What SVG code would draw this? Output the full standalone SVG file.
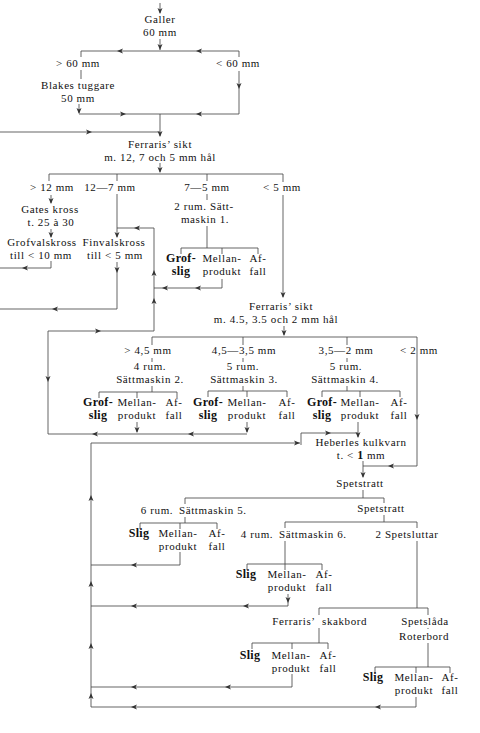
<svg xmlns="http://www.w3.org/2000/svg" width="480" height="733" viewBox="0 0 480 733">
<defs>
<style>
text{font-family:"Liberation Serif","DejaVu Serif",serif;font-size:11px;letter-spacing:0.6px;fill:#111;text-anchor:middle}
.b{font-weight:bold;font-size:12px;letter-spacing:0.3px}
.s{text-anchor:start}
.ln{stroke:#4a4a4a;stroke-width:0.85;fill:none}
</style>
<path id="aL" fill="#333" d="M0,0 L6,-2.5 L4.5,0 L6,2.5 z"/>
<path id="aR" fill="#333" d="M0,0 L-6,-2.5 L-4.5,0 L-6,2.5 z"/>
<path id="aD" fill="#333" d="M0,0 L-2.5,-6 L0,-4.5 L2.5,-6 z"/>
<path id="aU" fill="#333" d="M0,0 L-2.5,6 L0,4.5 L2.5,6 z"/>
</defs>
<rect width="480" height="733" fill="#fff"/>
<g id="connectors">
<path class="ln" d="M160,3 V13 M160,39 V50 M81,51 H239 M81,51 V57 M81,70 V79 M79,104 V113 M239,51 V57 M239,71 V114 M79,114 H239 M160,114 V136 M0,132 H160 M160,163 V172 M49,174 H283 M49,174 V181 M117,174 V181 M207,174 V181 M283,174 V182 M283,195 V297"/>
<path class="ln" d="M51,195 V203 M51,229 V237 M51,261 V268 H0 M117,194 V237 M154,228 H117 M117,262 V309 H0 M207,194 V200 M207,226 V248 M181,248 H258 M181,248 V254 M222,248 V254 M258,248 V254 M222,279 V288 H154 M154,228 V331 H48 V434 H247 M137,422 V432 M247,422 V432"/>
<path class="ln" d="M284,326 V335 M152,337 H417 M152,337 V345 M243,337 V345 M347,337 V345 M417,337 V466 H363 M152,358 V362 M152,386 V392 M99,392 H177 M99,392 V398 M137,392 V398 M177,392 V398 M243,358 V362 M243,386 V391 M208,391 H287 M208,391 V397 M247,391 V397 M287,391 V397 M347,358 V362 M347,386 V391 M322,391 H400 M322,391 V397 M360,391 V397 M400,391 V397 M358,422 V437 M301,445 V433 H358 M91,707 V443 H300"/>
<path class="ln" d="M363,461 V477 M363,490 V498 M185,498 H384 M185,498 V504 M384,498 V503 M384,515 V522 M285,522 H417 M285,522 V528 M417,522 V528 M185,517 V523 M140,523 H217 M140,523 V529 M180,523 V529 M217,523 V529 M180,552 V565 H91 M285,541 V564 M247,564 H322 M247,564 V570 M285,564 V570 M322,564 V570 M288,594 V606 H91 M417,541 V608 M319,608 H428 M319,608 V615 M319,628 V643 M252,643 H328 M252,643 V649 M292,643 V649 M328,643 V649 M292,674 V687 H91 M428,608 V615 M428,628 V629 M428,643 V667 M375,667 H450 M375,667 V673 M416,667 V673 M450,667 V673 M416,697 V707 H91"/>
<use href="#aD" x="160" y="14"/>
<use href="#aD" x="160" y="50"/>
<use href="#aL" x="117" y="51"/>
<use href="#aL" x="196" y="51"/>
<use href="#aD" x="79" y="114"/>
<use href="#aD" x="239" y="89"/>
<use href="#aR" x="126" y="114"/>
<use href="#aL" x="196" y="114"/>
<use href="#aD" x="160" y="137"/>
<use href="#aR" x="92" y="132"/>
<use href="#aD" x="160" y="173"/>
<use href="#aD" x="283" y="298"/>
<use href="#aD" x="51" y="204"/>
<use href="#aD" x="51" y="238"/>
<use href="#aL" x="22" y="268"/>
<use href="#aD" x="117" y="238"/>
<use href="#aL" x="134" y="228"/>
<use href="#aD" x="117" y="273"/>
<use href="#aL" x="52" y="309"/>
<use href="#aL" x="195" y="288"/>
<use href="#aL" x="162" y="288"/>
<use href="#aU" x="154" y="270"/>
<use href="#aU" x="154" y="298"/>
<use href="#aR" x="101" y="331"/>
<use href="#aD" x="48" y="382"/>
<use href="#aL" x="92" y="434"/>
<use href="#aL" x="188" y="434"/>
<use href="#aD" x="137" y="433"/>
<use href="#aD" x="247" y="433"/>
<use href="#aD" x="284" y="336"/>
<use href="#aD" x="417" y="420"/>
<use href="#aL" x="388" y="466"/>
<use href="#aD" x="358" y="438"/>
<use href="#aR" x="331" y="433"/>
<use href="#aR" x="300" y="443"/>
<use href="#aU" x="91" y="495"/>
<use href="#aU" x="91" y="581"/>
<use href="#aU" x="91" y="643"/>
<use href="#aU" x="91" y="693"/>
<use href="#aD" x="363" y="478"/>
<use href="#aL" x="131" y="565"/>
<use href="#aD" x="288" y="603"/>
<use href="#aL" x="243" y="606"/>
<use href="#aL" x="131" y="606"/>
<use href="#aL" x="225" y="687"/>
<use href="#aL" x="131" y="687"/>
<use href="#aL" x="375" y="707"/>
<use href="#aL" x="131" y="707"/>
</g>
<g id="galler"><text x="160" y="23">Galler</text><text x="160" y="35.5">60 mm</text></g>
<g id="gt60"><text x="78" y="67">&gt; 60 mm</text></g>
<g id="lt60"><text x="238" y="67">&lt; 60 mm</text></g>
<g id="blakes"><text x="78" y="89">Blakes tuggare</text><text x="78" y="101.5">50 mm</text></g>
<g id="ferraris1"><text x="160" y="148">Ferraris’ sikt</text><text x="160" y="160.5">m. 12, 7 och 5 mm hål</text></g>
<g id="s12"><text x="52" y="191">&gt; 12 mm</text></g>
<g id="s127"><text x="110" y="191">12—7 mm</text></g>
<g id="s75"><text x="207" y="191">7—5 mm</text></g>
<g id="s5"><text x="282" y="191">&lt; 5 mm</text></g>
<g id="gates"><text x="50" y="213">Gates kross</text><text x="51" y="225.5">t. 25 à 30</text></g>
<g id="grofvals"><text x="42" y="246">Grofvalskross</text><text x="41" y="258.5">till &lt; 10 mm</text></g>
<g id="finvals"><text x="114" y="246">Finvalskross</text><text x="115" y="258.5">till &lt; 5 mm</text></g>
<g id="sm1"><text x="204" y="210">2 rum. Sätt-</text><text x="205" y="222.5">maskin 1.</text></g>
<g id="sm1out"><text class="b" x="181" y="262">Grof-</text><text class="b" x="181" y="274.5">slig</text><text x="222" y="262">Mellan-</text><text x="222" y="274.5">produkt</text><text x="258" y="262">Af-</text><text x="258" y="274.5">fall</text></g>
<g id="ferraris2"><text x="281" y="310">Ferraris’ sikt</text><text x="276" y="322.5">m. 4.5, 3.5 och 2 mm hål</text></g>
<g id="s45"><text x="148" y="354">&gt; 4,5 mm</text></g>
<g id="s4535"><text x="244" y="354">4,5—3,5 mm</text></g>
<g id="s352"><text x="346" y="354">3,5—2 mm</text></g>
<g id="s2"><text x="419" y="354">&lt; 2 mm</text></g>
<g id="sm2"><text x="150" y="370">4 rum.</text><text x="150" y="382.5">Sättmaskin 2.</text></g>
<g id="sm3"><text x="243" y="370">5 rum.</text><text x="244" y="382.5">Sättmaskin 3.</text></g>
<g id="sm4"><text x="346" y="370">5 rum.</text><text x="345" y="382.5">Sättmaskin 4.</text></g>
<g id="sm2out"><text class="b" x="98" y="406">Grof-</text><text class="b" x="98" y="418.5">slig</text><text x="137" y="406">Mellan-</text><text x="137" y="418.5">produkt</text><text x="174" y="406">Af-</text><text x="174" y="418.5">fall</text></g>
<g id="sm3out"><text class="b" x="208" y="406">Grof-</text><text class="b" x="208" y="418.5">slig</text><text x="247" y="406">Mellan-</text><text x="247" y="418.5">produkt</text><text x="287" y="406">Af-</text><text x="287" y="418.5">fall</text></g>
<g id="sm4out"><text class="b" x="322" y="406">Grof-</text><text class="b" x="322" y="418.5">slig</text><text x="360" y="406">Mellan-</text><text x="360" y="418.5">produkt</text><text x="399" y="406">Af-</text><text x="399" y="418.5">fall</text></g>
<g id="heberles"><text x="361" y="446">Heberles kulkvarn</text><text x="361" y="458.5">t. &lt; <tspan class="b">1</tspan> mm</text></g>
<g id="spetstratt1"><text x="360" y="487">Spetstratt</text></g>
<g id="spetstratt2"><text x="381" y="512">Spetstratt</text></g>
<g id="sm5"><text x="157" y="514">6 rum.</text><text class="s" x="179" y="514">Sättmaskin 5.</text></g>
<g id="sm5out"><text class="b" x="139" y="537">Slig</text><text x="178" y="537">Mellan-</text><text x="178" y="549.5">produkt</text><text x="217" y="537">Af-</text><text x="217" y="549.5">fall</text></g>
<g id="sm6"><text x="257" y="538">4 rum.</text><text class="s" x="279" y="538">Sättmaskin 6.</text></g>
<g id="spetsluttar"><text x="407" y="538">2 Spetsluttar</text></g>
<g id="sm6out"><text class="b" x="246" y="578">Slig</text><text x="287" y="578">Mellan-</text><text x="287" y="590.5">produkt</text><text x="324" y="578">Af-</text><text x="324" y="590.5">fall</text></g>
<g id="skakbord"><text x="294" y="625">Ferraris’</text><text class="s" x="322" y="625">skakbord</text></g>
<g id="spetslada"><text x="425" y="625">Spetslåda</text><text x="424" y="640">Roterbord</text></g>
<g id="skakout"><text class="b" x="250" y="659">Slig</text><text x="291" y="659">Mellan-</text><text x="291" y="671.5">produkt</text><text x="328" y="659">Af-</text><text x="328" y="671.5">fall</text></g>
<g id="roterout"><text class="b" x="373" y="681">Slig</text><text x="414" y="681">Mellan-</text><text x="414" y="693.5">produkt</text><text x="450" y="681">Af-</text><text x="450" y="693.5">fall</text></g>
</svg>
